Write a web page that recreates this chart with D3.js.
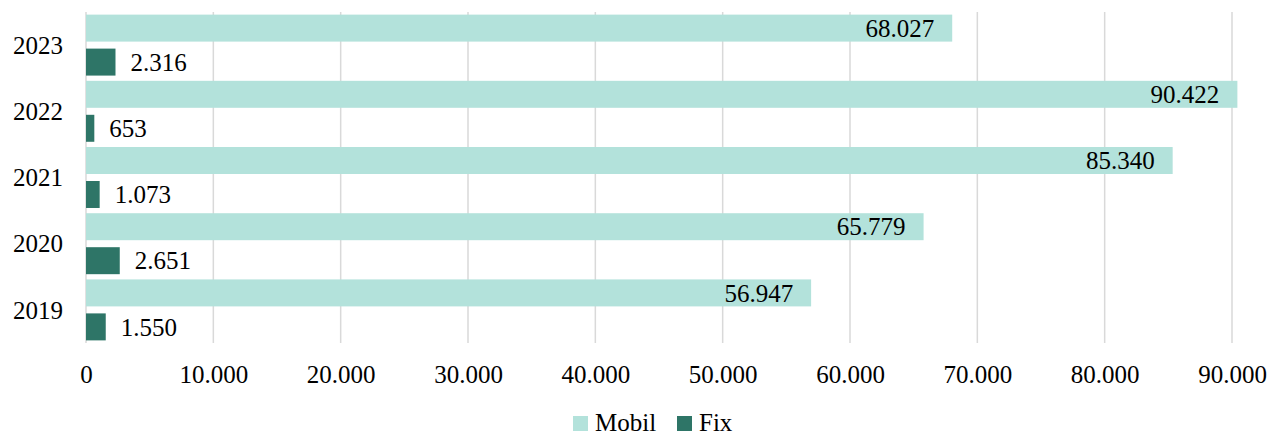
<!DOCTYPE html>
<html>
<head>
<meta charset="utf-8">
<script src="https://cdn.jsdelivr.net/npm/d3@7"></script>
<style>
  body { margin: 0; background: #fff; }
  text { font-family: "Liberation Serif", "DejaVu Serif", serif; fill: #000; }
</style>
</head>
<body>
<div id="chart"></div>
<script>
// data, top to bottom as in the chart
var years = ["2023", "2022", "2021", "2020", "2019"];
var mobil = [68027, 90422, 85340, 65779, 56947];
var fix = [2316, 653, 1073, 2651, 1550];
var seriesNames = ["Mobil", "Fix"];
var seriesColors = ["#b3e2db", "#2e7567"];
var xTicks = [0, 10000, 20000, 30000, 40000, 50000, 60000, 70000, 80000, 90000];

var w = 1280;
var h = 438;
var fontSize = 25;

var loc = d3.formatLocale({decimal: ",", thousands: ".", grouping: [3], currency: ["", ""]});
var fmt = loc.format(",d");

var svg = d3.select("#chart")
  .append("svg")
  .attr("width", w)
  .attr("height", h);

var x = d3.scaleLinear()
  .domain([0, 90000])
  .range([86, 1232]);

var y = d3.scaleBand()
  .domain(years)
  .range([12, 343])
  .paddingInner(0)
  .paddingOuter(0);

var inner = d3.scaleBand()
  .domain(seriesNames)
  .range([0, y.bandwidth()])
  .paddingInner(0.206)
  .paddingOuter(0.077);

// gridlines
svg.append("g")
  .selectAll("line")
  .data(xTicks)
  .enter()
  .append("line")
  .attr("x1", function(d) { return x(d); })
  .attr("x2", function(d) { return x(d); })
  .attr("y1", 12)
  .attr("y2", 343)
  .attr("stroke", "#d9d9d9")
  .attr("stroke-width", 1.5);

var rows = years.map(function(yr, i) {
  return {year: yr, vals: [{s: "Mobil", v: mobil[i]}, {s: "Fix", v: fix[i]}]};
});

var groups = svg.selectAll("g.row")
  .data(rows)
  .enter()
  .append("g")
  .attr("class", "row")
  .attr("transform", function(d) { return "translate(0," + y(d.year) + ")"; });

groups.selectAll("rect")
  .data(function(d) { return d.vals; })
  .enter()
  .append("rect")
  .attr("x", x(0))
  .attr("y", function(d) { return inner(d.s); })
  .attr("width", function(d) { return x(d.v) - x(0); })
  .attr("height", inner.bandwidth())
  .attr("fill", function(d) { return seriesColors[seriesNames.indexOf(d.s)]; });

// labels: Mobil inside end, Fix outside end
groups.selectAll("text.val")
  .data(function(d) { return d.vals; })
  .enter()
  .append("text")
  .attr("class", "val")
  .attr("x", function(d) { return d.s == "Mobil" ? x(d.v) - 18 : x(d.v) + 15; })
  .attr("y", function(d) { return inner(d.s) + inner.bandwidth() / 2; })
  .attr("dy", "0.35em")
  .attr("text-anchor", function(d) { return d.s == "Mobil" ? "end" : "start"; })
  .attr("font-size", fontSize)
  .text(function(d) { return fmt(d.v); });

// y axis labels
svg.append("g")
  .selectAll("text")
  .data(years)
  .enter()
  .append("text")
  .attr("x", 63)
  .attr("y", function(d) { return y(d) + y.bandwidth() / 2; })
  .attr("dy", "0.35em")
  .attr("text-anchor", "end")
  .attr("font-size", fontSize)
  .text(function(d) { return d; });

// x axis
var xAxis = d3.axisBottom(x)
  .tickValues(xTicks)
  .tickSize(0)
  .tickPadding(0)
  .tickFormat(fmt);

var ax = svg.append("g")
  .attr("transform", "translate(0,365)")
  .call(xAxis);
ax.select(".domain").remove();
ax.selectAll("text")
  .attr("font-size", fontSize)
  .attr("font-family", "Liberation Serif, DejaVu Serif, serif")
  .attr("dy", "0.7em");

// legend
var legend = svg.append("g");
var legendX = [573, 677];
seriesNames.forEach(function(s, i) {
  legend.append("rect")
    .attr("x", legendX[i])
    .attr("y", 416)
    .attr("width", 15)
    .attr("height", 15)
    .attr("fill", seriesColors[i]);
  legend.append("text")
    .attr("x", legendX[i] + 22)
    .attr("y", 422)
    .attr("dy", "0.35em")
    .attr("font-size", fontSize)
    .text(s);
});
</script>
</body>
</html>
